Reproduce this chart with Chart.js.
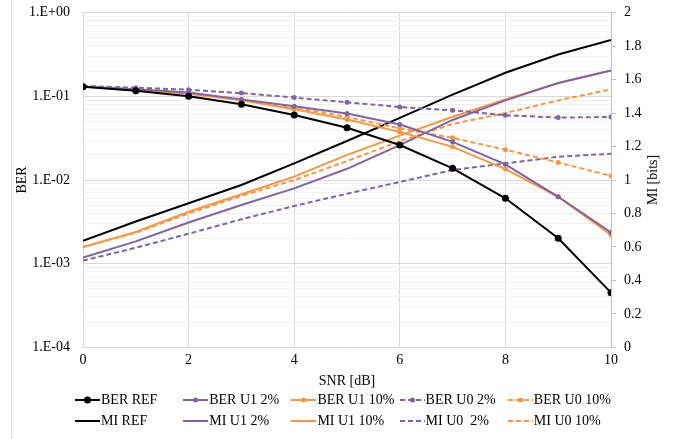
<!DOCTYPE html>
<html>
<head>
<meta charset="utf-8">
<script src="https://cdn.jsdelivr.net/npm/chart.js@4.4.1/dist/chart.umd.min.js"></script>
<style>
  html, body { margin: 0; padding: 0; background: #fff; }
  #wrap { position: relative; width: 678px; height: 439px; overflow: hidden; font-family: 'Liberation Serif', 'Times New Roman', serif; color: #000; }
  #c { position: absolute; left: 0; top: 0; }
  #frame { position: absolute; left: 11px; top: 0; width: 0; height: 439px; border-left: 1px solid #d9d9d9; }
  #miTitle { position: absolute; left: 653px; top: 180px; transform: translate(-50%, -50%) rotate(-90deg); font-size: 14px; white-space: nowrap; }
  .lg { position: absolute; display: flex; align-items: center; height: 16px; font-size: 14px; white-space: pre; }
  .lg svg { display: block; margin-right: 1px; }
</style>
</head>
<body>
<div id="wrap">
  <canvas id="c" width="678" height="439"></canvas>
  <div id="frame"></div>
  <div id="miTitle">MI [bits]</div>
  <div id="legend"></div>
</div>
<script>
// ---- data ----
const snr = [0, 1, 2, 3, 4, 5, 6, 7, 8, 9, 10];
const berRef   = [0.130, 0.117, 0.100, 0.0803, 0.0598, 0.0422, 0.0262, 0.0138, 0.00604, 0.00201, 0.00045];
const berU1_2  = [0.1315, 0.122, 0.111, 0.092, 0.076, 0.0622, 0.046, 0.0286, 0.0154, 0.0063, 0.00236];
const berU1_10 = [0.130, 0.121, 0.1077, 0.0896, 0.0700, 0.0528, 0.0376, 0.0249, 0.0135, 0.0063, 0.0022];
const berU0_2  = [0.133, 0.127, 0.120, 0.1095, 0.0966, 0.0849, 0.0746, 0.068, 0.0594, 0.0557, 0.0567];
const berU0_10 = [0.133, 0.123, 0.109, 0.092, 0.0739, 0.0567, 0.0414, 0.0319, 0.023, 0.0162, 0.0112];
const miRef    = [0.637, 0.752, 0.861, 0.970, 1.099, 1.233, 1.371, 1.510, 1.641, 1.750, 1.837];
const miU1_2   = [0.537, 0.633, 0.746, 0.851, 0.950, 1.067, 1.208, 1.359, 1.476, 1.580, 1.655];
const miU1_10  = [0.600, 0.690, 0.810, 0.915, 1.020, 1.150, 1.265, 1.378, 1.482, 1.579, 1.655];
const miU0_2   = [0.518, 0.595, 0.679, 0.765, 0.845, 0.918, 0.988, 1.060, 1.099, 1.139, 1.157];
const miU0_10  = [0.600, 0.685, 0.800, 0.905, 1.000, 1.113, 1.232, 1.335, 1.400, 1.476, 1.542];

const seriesNames = ['BER REF', 'BER U1 2%', 'BER U1 10%', 'BER U0 2%', 'BER U0 10%',
                     'MI REF', 'MI U1 2%', 'MI U1 10%', 'MI U0  2%', 'MI U0 10%'];
const berTickValues = [1e-4, 1e-3, 1e-2, 1e-1, 1];
const berTickLabels = ['1.E-04', '1.E-03', '1.E-02', '1.E-01', '1.E+00'];
const miTickValues = [0, 0.2, 0.4, 0.6, 0.8, 1, 1.2, 1.4, 1.6, 1.8, 2];
const miTickLabels = ['0', '0.2', '0.4', '0.6', '0.8', '1', '1.2', '1.4', '1.6', '1.8', '2'];
const xTitle = 'SNR [dB]';
const berTitle = 'BER';

// ---- styles ----
const BLACK = '#000000', PURPLE = '#8064A2', ORANGE = '#F79646';
const FONT = "'Liberation Serif', 'Times New Roman', serif";
const DASH = [5, 3];

const seriesData = [berRef, berU1_2, berU1_10, berU0_2, berU0_10, miRef, miU1_2, miU1_10, miU0_2, miU0_10];
const seriesStyle = [
  { c: BLACK,  dash: [], r: 3.5, axis: 'yBer' },
  { c: PURPLE, dash: [], r: 2.5, axis: 'yBer' },
  { c: ORANGE, dash: [], r: 2.5, axis: 'yBer' },
  { c: PURPLE, dash: DASH, r: 2.5, axis: 'yBer' },
  { c: ORANGE, dash: DASH, r: 2.5, axis: 'yBer' },
  { c: BLACK,  dash: [], r: 0, axis: 'yMi' },
  { c: PURPLE, dash: [], r: 0, axis: 'yMi' },
  { c: ORANGE, dash: [], r: 0, axis: 'yMi' },
  { c: PURPLE, dash: DASH, r: 0, axis: 'yMi' },
  { c: ORANGE, dash: DASH, r: 0, axis: 'yMi' }
];

const datasets = seriesData.map((arr, i) => {
  const s = seriesStyle[i];
  return {
    label: seriesNames[i],
    data: snr.map((x, k) => ({ x: x, y: arr[k] })),
    yAxisID: s.axis,
    xAxisID: 'x',
    borderColor: s.c,
    backgroundColor: s.c,
    borderWidth: 2,
    borderDash: s.dash,
    pointRadius: s.r,
    pointHoverRadius: s.r,
    pointBackgroundColor: s.c,
    pointBorderColor: s.c,
    pointBorderWidth: 0,
    tension: 0,
    fill: false
  };
});

// log gridline ticks: majors at decades, minors at 2..9 x decade
function buildBerTicks(scale) {
  const t = [];
  for (let d = 0; d < berTickValues.length; d++) {
    const v = berTickValues[d];
    t.push({ value: v, major: true });
    if (d < berTickValues.length - 1) {
      for (let m = 2; m <= 9; m++) t.push({ value: +(v * m).toPrecision(6), major: false });
    }
  }
  scale.ticks = t;
}
function buildMiTicks(scale) {
  scale.ticks = miTickValues.map(v => ({ value: v }));
}
function noPad(s) { s.paddingTop = 0; s.paddingBottom = 0; }

const chart = new Chart(document.getElementById('c'), {
  type: 'line',
  data: { datasets },
  options: {
    responsive: false,
    animation: false,
    devicePixelRatio: 1,
    layout: { padding: { left: 12, top: 12.7, right: 0, bottom: 49.7 } },
    plugins: { legend: { display: false }, tooltip: { enabled: false } },
    scales: {
      x: {
        type: 'linear', position: 'bottom', min: 0, max: 10,
        ticks: { stepSize: 2, color: '#000', padding: 5, font: { family: FONT, size: 14 } },
        grid: { color: '#d9d9d9', drawTicks: false, lineWidth: 1 },
        border: { color: '#d9d9d9' },
        title: { display: true, text: xTitle, color: '#000', font: { family: FONT, size: 14 }, padding: { top: 0, bottom: 0 } },
        afterFit: s => { s.height = 42; s.paddingLeft = 0; s.paddingRight = 0; }
      },
      yBer: {
        type: 'logarithmic', position: 'left', min: 1e-4, max: 1,
        afterBuildTicks: buildBerTicks,
        ticks: {
          autoSkip: false, color: '#000', padding: 13, font: { family: FONT, size: 14 },
          callback: function (v) {
            const i = berTickValues.findIndex(b => Math.abs(b - v) / b < 1e-6);
            return i >= 0 ? berTickLabels[i] : '';
          }
        },
        grid: {
          drawTicks: false,
          color: ctx => (ctx.tick && ctx.tick.major) ? '#d9d9d9' : '#f0f0f0',
          lineWidth: 1
        },
        border: { color: '#d9d9d9' },
        title: { display: true, text: berTitle, color: '#000', font: { family: FONT, size: 14 }, padding: { top: 2, bottom: 0 } },
        afterFit: s => { s.width = 71; noPad(s); }
      },
      yMi: {
        type: 'linear', position: 'right', min: 0, max: 2,
        afterBuildTicks: buildMiTicks,
        ticks: {
          autoSkip: false, color: '#000', padding: 8, font: { family: FONT, size: 14 },
          callback: function (v, idx) {
            const i = miTickValues.findIndex(m => Math.abs(m - v) < 1e-6);
            return i >= 0 ? miTickLabels[i] : '';
          }
        },
        grid: { drawOnChartArea: false, drawTicks: true, tickLength: 5, color: '#bfbfbf' },
        border: { color: '#bfbfbf' },
        afterFit: s => { s.width = 67; noPad(s); }
      }
    }
  }
});

// ---- HTML legend (two rows of five, column aligned) ----
const legend = document.getElementById('legend');
seriesNames.forEach((name, i) => {
  const s = seriesStyle[i];
  const col = i % 5, row = Math.floor(i / 5);
  const div = document.createElement('div');
  div.className = 'lg';
  div.style.left = (75 + col * 108.2) + 'px';
  div.style.top = (row === 0 ? 392 : 413) + 'px';
  const dashAttr = s.dash.length ? ` stroke-dasharray="${s.dash.join(',')}"` : '';
  const marker = s.r > 0 ? `<circle cx="12.5" cy="8" r="${s.r === 3.5 ? 3.5 : 2.5}" fill="${s.c}"/>` : '';
  div.innerHTML = `<svg width="25" height="16"><line x1="0" y1="8" x2="25" y2="8" stroke="${s.c}" stroke-width="2"${dashAttr}/>${marker}</svg><span></span>`;
  div.querySelector('span').textContent = name;
  legend.appendChild(div);
});
</script>
</body>
</html>
